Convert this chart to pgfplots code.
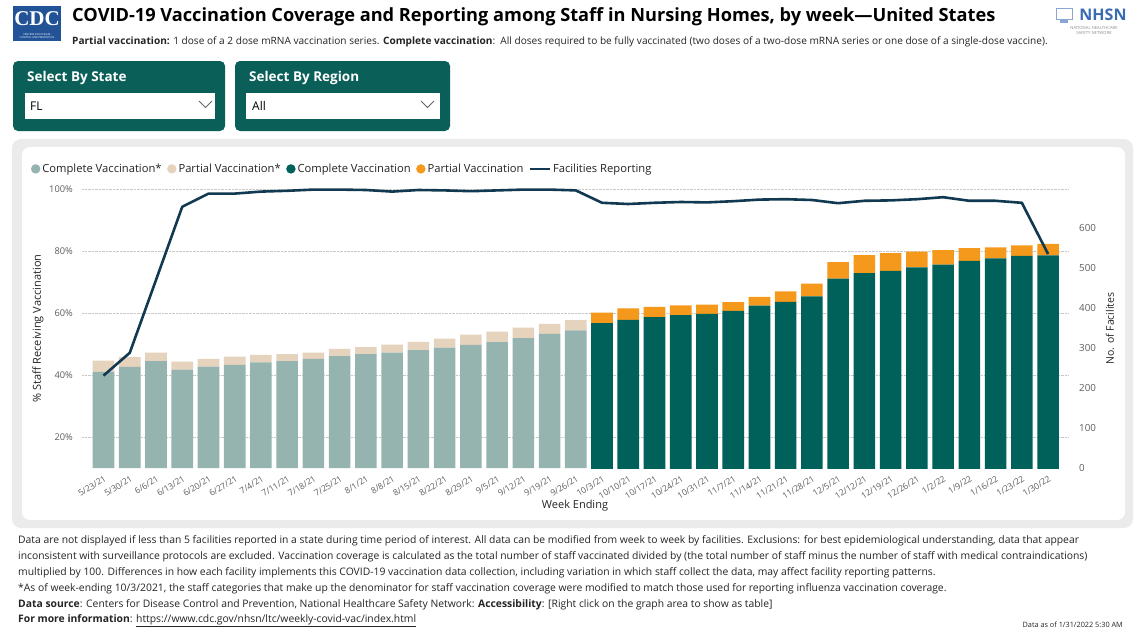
\documentclass[border=0pt]{standalone}
\usepackage{fontspec}
\setmainfont{Open Sans}
\usepackage{pgfplots}
\usepackage{pgfplotstable}
\pgfplotsset{compat=1.18}

\definecolor{cgrey}{HTML}{95B3AF}
\definecolor{cbeige}{HTML}{E6D3BD}
\definecolor{cteal}{HTML}{00605A}
\definecolor{corange}{HTML}{F5991C}
\definecolor{cline}{HTML}{113A52}
\definecolor{boxteal}{HTML}{0B5F59}
\definecolor{framegrey}{HTML}{EBEBEB}
\definecolor{ticktext}{HTML}{605E5C}
\definecolor{bodytext}{HTML}{252423}
\definecolor{cdcblue}{HTML}{215396}
\definecolor{nhsnblue}{HTML}{3A6CB4}

% week index, complete* / partial* (old denominator), complete / partial, facilities
\pgfplotstableread{
idx cstar pstar comp part fac
0  41.0 3.6 0 0 231
1  42.6 3.2 0 0 288
2  44.5 2.7 0 0 470
3  41.7 2.6 0 0 653
4  42.7 2.5 0 0 686
5  43.3 2.6 0 0 686
6  44.1 2.4 0 0 691
7  44.5 2.2 0 0 693
8  45.2 2.0 0 0 696
9  46.1 2.3 0 0 696
10 46.7 2.3 0 0 695
11 47.2 2.6 0 0 691
12 48.0 2.7 0 0 695
13 48.8 2.9 0 0 694
14 49.7 3.3 0 0 692
15 50.6 3.4 0 0 694
16 51.9 3.4 0 0 696
17 53.3 3.2 0 0 696
18 54.4 3.3 0 0 694
19 0 0 56.7 3.4 663
20 0 0 57.8 3.7 660
21 0 0 58.7 3.3 663
22 0 0 59.3 3.2 665
23 0 0 59.7 3.0 664
24 0 0 60.7 2.8 667
25 0 0 62.4 2.8 671
26 0 0 63.6 3.4 672
27 0 0 65.4 4.1 670
28 0 0 71.1 5.3 662
29 0 0 72.9 5.8 668
30 0 0 73.6 5.7 669
31 0 0 74.7 5.1 672
32 0 0 75.6 4.7 677
33 0 0 76.8 4.1 668
34 0 0 77.6 3.6 668
35 0 0 78.4 3.4 663
36 0 0 78.6 3.7 535
}\vacdata

\begin{document}
\begin{tikzpicture}
\useasboundingbox (0,0) rectangle (1140pt,-635pt);
\fill[white] (0,0) rectangle (1140pt,-635pt);

\begin{scope}[x=1pt,y=-1pt]
% header
\fill[cdcblue] (13,6) rectangle (61,41);
\node[white,font=\fontspec{Liberation Serif}\bfseries\fontsize{21}{21}\selectfont,inner sep=0pt] at (37,19) {CDC};
\node[white,font=\fontsize{2.6}{3}\selectfont,align=center,inner sep=0pt] at (37,36) {CENTERS FOR DISEASE\\CONTROL AND PREVENTION};
\node[anchor=west,inner sep=0pt,font=\bfseries\fontsize{18.2}{20}\selectfont] at (72,17)
  {COVID-19 Vaccination Coverage and Reporting among Staff in Nursing Homes, by week—United States};
\node[anchor=west,inner sep=0pt,text=bodytext,font=\fontsize{10.1}{11}\selectfont] at (72,42)
  {\textbf{Partial vaccination:} 1 dose of a 2 dose mRNA vaccination series. \textbf{Complete vaccination}:\ \ All doses required to be fully vaccinated (two doses of a two-dose mRNA series or one dose of a single-dose vaccine).};
\draw[nhsnblue!60,line width=0.8] (1056,8) rectangle (1072,19);
\fill[nhsnblue!60] (1060,20) rectangle (1068,23);
\node[text=nhsnblue,font=\bfseries\fontsize{16}{16}\selectfont,inner sep=0pt] at (1103,15) {NHSN};
\node[text=black!45,font=\fontsize{4.2}{5}\selectfont,align=center,inner sep=0pt] at (1094,30) {NATIONAL HEALTHCARE\\SAFETY NETWORK};

% selectors
\fill[boxteal,rounded corners=5pt] (13,61) rectangle (225,131);
\fill[boxteal,rounded corners=5pt] (235,61) rectangle (450,131);
\node[anchor=west,white,inner sep=0pt,font=\bfseries\fontsize{13.5}{15}\selectfont] at (27,78) {Select By State};
\node[anchor=west,white,inner sep=0pt,font=\bfseries\fontsize{13.5}{15}\selectfont] at (249,78) {Select By Region};
\fill[white] (25,93) rectangle (215,119);
\fill[white] (246,93) rectangle (440,119);
\node[anchor=west,inner sep=0pt,font=\fontsize{12}{14}\selectfont] at (30,106) {FL};
\node[anchor=west,inner sep=0pt,font=\fontsize{12}{14}\selectfont] at (252,106) {All};
\draw[black!60,line width=0.8] (199,101) -- (205.5,107.5) -- (212,101);
\draw[black!60,line width=0.8] (421,101) -- (427.5,107.5) -- (434,101);

% chart card
\fill[framegrey,rounded corners=9pt] (12,139) rectangle (1133,528);
\fill[white,rounded corners=8pt] (22,147) rectangle (1125,520);

% footer
\begin{scope}[every node/.style={anchor=west,inner sep=0pt,text=bodytext,font=\fontsize{10.35}{11}\selectfont}]
\node at (18,541) {Data are not displayed if less than 5 facilities reported in a state during time period of interest. All data can be modified from week to week by facilities. Exclusions: for best epidemiological understanding, data that appear};
\node at (18,557) {inconsistent with surveillance protocols are excluded. Vaccination coverage is calculated as the total number of staff vaccinated divided by (the total number of staff minus the number of staff with medical contraindications)};
\node at (18,573) {multiplied by 100. Differences in how each facility implements this COVID-19 vaccination data collection, including variation in which staff collect the data, may affect facility reporting patterns.};
\node at (18,589) {*As of week-ending 10/3/2021, the staff categories that make up the denominator for staff vaccination coverage were modified to match those used for reporting influenza vaccination coverage.};
\node at (18,605) {\textbf{Data source}: Centers for Disease Control and Prevention, National Healthcare Safety Network: \textbf{Accessibility}: [Right click on the graph area to show as table]};
\node at (18,621) {\textbf{For more information}: \underline{https://www.cdc.gov/nhsn/ltc/weekly-covid-vac/index.html}};
\end{scope}
\node[anchor=east,inner sep=0pt,text=bodytext,font=\fontsize{7.3}{9}\selectfont] at (1123,625) {Data as of 1/31/2022 5:30 AM};
\end{scope}

% bars, left axis
\begin{axis}[
  at={(82pt,-468pt)}, anchor=south west,
  scale only axis, width=986pt, height=279pt,
  ybar stacked, bar width=21.6pt,
  xmin=-0.82, xmax=36.76, ymin=10, ymax=100,
  axis line style={draw=none}, major tick length=0pt,
  xtick={0,...,36},
  xticklabels={5/23/21,5/30/21,6/6/21,6/13/21,6/20/21,6/27/21,7/4/21,7/11/21,7/18/21,7/25/21,8/1/21,8/8/21,8/15/21,8/22/21,8/29/21,9/5/21,9/12/21,9/19/21,9/26/21,10/3/21,10/10/21,10/17/21,10/24/21,10/31/21,11/7/21,11/14/21,11/21/21,11/28/21,12/5/21,12/12/21,12/19/21,12/26/21,1/2/22,1/9/22,1/16/22,1/23/22,1/30/22},
  xticklabel style={rotate=32, anchor=north east, inner sep=0pt, text=ticktext, font=\fontsize{8.6}{10}\selectfont},
  xticklabel shift=7pt,
  ytick={20,40,60,80,100},
  yticklabel={\pgfmathprintnumber{\tick}\%},
  yticklabel style={inner sep=0pt, xshift=-9pt, text=ticktext, font=\fontsize{9.3}{10}\selectfont},
  /pgf/number format/assume math mode=true,
  ymajorgrids, grid style={densely dotted, black!22, line width=0.8pt},
  xlabel={Week Ending}, ylabel={\% Staff Receiving Vaccination},
  every axis x label/.style={at={(axis description cs:0.5,0)}, yshift=-38pt, anchor=center, text=bodytext, font=\fontsize{11}{12}\selectfont},
  every axis y label/.style={at={(axis description cs:-0.0446,0.5)}, rotate=90, anchor=center, text=bodytext, font=\fontsize{11}{12}\selectfont},
  legend columns=-1,
  legend style={at={(axis description cs:-0.055,1.072)}, anchor=west, draw=none, fill=none,
    text=bodytext, font=\fontsize{11.2}{12}\selectfont,
    /tikz/every even column/.append style={column sep=3.5pt}},
]
\addplot[fill=cgrey, draw=none, legend image code/.code={\fill[cgrey] (4.7pt,0pt) circle (4.7pt);}] table[x=idx,y=cstar] {\vacdata};
\addlegendentry{Complete Vaccination*}
\addplot[fill=cbeige, draw=none, legend image code/.code={\fill[cbeige] (4.7pt,0pt) circle (4.7pt);}] table[x=idx,y=pstar] {\vacdata};
\addlegendentry{Partial Vaccination*}
\addplot[fill=cteal, draw=none, legend image code/.code={\fill[cteal] (4.7pt,0pt) circle (4.7pt);}] table[x=idx,y=comp] {\vacdata};
\addlegendentry{Complete Vaccination}
\addplot[fill=corange, draw=none, legend image code/.code={\fill[corange] (4.7pt,0pt) circle (4.7pt);}] table[x=idx,y=part] {\vacdata};
\addlegendentry{Partial Vaccination}
\addlegendimage{legend image code/.code={\draw[cline, line width=2pt] (0pt,0pt) -- (20pt,0pt);}}
\addlegendentry{Facilities Reporting}
\end{axis}

% facilities, right axis
\begin{axis}[
  at={(82pt,-468pt)}, anchor=south west,
  scale only axis, width=986pt, height=279pt,
  xmin=-0.82, xmax=36.76, ymin=0, ymax=697.5,
  axis x line=none, axis y line*=right,
  axis line style={draw=none}, major tick length=0pt,
  ytick={0,100,...,600},
  yticklabel style={inner sep=0pt, xshift=11pt, anchor=west, text=ticktext, font=\fontsize{9.8}{11}\selectfont},
  /pgf/number format/assume math mode=true,
  ylabel={No. of Facilites},
  every axis y label/.style={at={(axis description cs:1.0426,0.5)}, rotate=90, anchor=center, text=bodytext, font=\fontsize{10.5}{12}\selectfont},
  clip=false,
]
\addplot[cline, line width=2.6pt, line join=round] table[x=idx,y=fac] {\vacdata};
\end{axis}
\end{tikzpicture}
\end{document}
